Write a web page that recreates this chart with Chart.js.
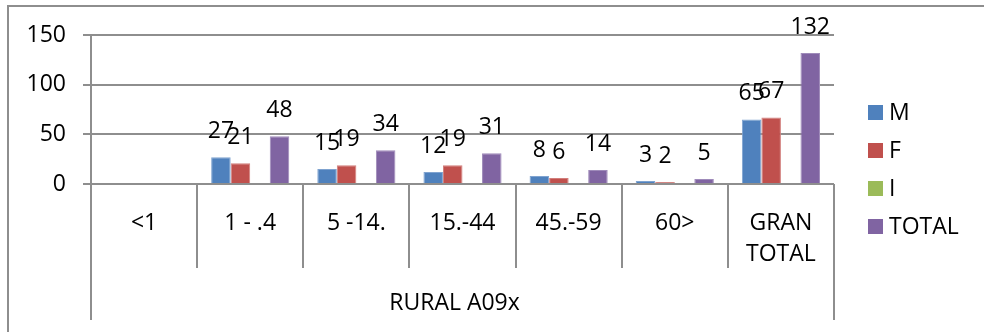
<!DOCTYPE html>
<html>
<head>
<meta charset="utf-8">
<script src="https://cdn.jsdelivr.net/npm/chart.js@4/dist/chart.umd.min.js"></script>
<style>
  html, body { margin: 0; padding: 0; background: #fff; }
  #wrap { width: 984px; height: 332px; position: relative; }
</style>
</head>
<body>
<div id="wrap"><canvas id="c" width="984" height="332"></canvas></div>
<script>
// Age groups (inner category axis) and the outer group label
const categories = ['<1', '1 - .4', '5 -14.', '15.-44', '45.-59', '60>', ['GRAN', 'TOTAL']];
const groupLabel = 'RURAL A09x';

// Series values per age group (null = no value)
const seriesNames = ['M', 'F', 'I', 'TOTAL'];
const valuesM     = [null, 27, 15, 12, 8, 3, 65];
const valuesF     = [null, 21, 19, 19, 6, 2, 67];
const valuesI     = [null, null, null, null, null, null, null];
const valuesTotal = [null, 48, 34, 31, 14, 5, 132];

// Value axis ticks
const yTicks = [0, 50, 100, 150];

const colors  = ['#4F81BD', '#C0504D', '#9BBB59', '#8064A2'];
const borders = ['#7FA3D0', '#D27E7B', '#B5CE87', '#9F8BBA'];
const LINE = '#8E8E8E';
const FONT = '"Open Sans", "DejaVu Sans", sans-serif';
const FSIZE = 23;

const seriesValues = [valuesM, valuesF, valuesI, valuesTotal];

// Decorations: frame, two-level category axis, data labels, legend
const decorations = {
  id: 'decorations',
  afterDatasetsDraw(chart) {
    const ctx = chart.ctx;
    ctx.save();
    ctx.font = FSIZE + 'px ' + FONT;
    ctx.fillStyle = '#000';
    ctx.textAlign = 'center';
    ctx.textBaseline = 'alphabetic';
    chart.data.datasets.forEach((ds, di) => {
      const meta = chart.getDatasetMeta(di);
      meta.data.forEach((el, i) => {
        const v = ds.data[i];
        if (v === null || v === undefined) return;
        ctx.fillText(String(v), el.x, el.y - 19);
      });
    });
    ctx.restore();
  },
  afterDraw(chart) {
    const ctx = chart.ctx;
    const area = chart.chartArea;
    const n = categories.length;
    const step = (area.right - area.left) / n;
    ctx.save();
    ctx.strokeStyle = LINE;
    ctx.lineWidth = 2;

    // outer frame (top and left edges visible)
    ctx.beginPath();
    ctx.moveTo(8, 332);
    ctx.lineTo(8, 6);
    ctx.lineTo(984, 6);
    ctx.stroke();

    // category separators below the axis
    for (let i = 0; i <= n; i++) {
      const x = Math.round(area.left + i * step);
      const yEnd = (i === 0 || i === n) ? 320 : 268;
      ctx.beginPath();
      ctx.moveTo(x, area.bottom);
      ctx.lineTo(x, yEnd);
      ctx.stroke();
    }

    // outer group label
    ctx.font = FSIZE + 'px ' + FONT;
    ctx.fillStyle = '#000';
    ctx.textAlign = 'center';
    ctx.textBaseline = 'middle';
    ctx.fillText(groupLabel, (area.left + area.right) / 2 - 8, 303);

    // legend
    ctx.textAlign = 'left';
    chart.data.datasets.forEach((ds, i) => {
      const cy = 112.5 + i * 38;
      ctx.fillStyle = ds.backgroundColor;
      ctx.fillRect(868, cy - 7.5, 15, 15);
      ctx.fillStyle = '#000';
      ctx.fillText(ds.label, 889, cy + 1);
    });
    ctx.restore();
  }
};

function build() {
  new Chart(document.getElementById('c'), {
    type: 'bar',
    data: {
      labels: categories,
      datasets: seriesNames.map((name, i) => ({
        label: name,
        data: seriesValues[i],
        backgroundColor: colors[i],
        borderColor: borders[i],
        borderWidth: 1,
        borderSkipped: 'bottom',
        categoryPercentage: 0.736,
        barPercentage: 1
      }))
    },
    options: {
      responsive: false,
      animation: false,
      events: [],
      layout: { padding: { top: 35, right: 150, bottom: 0, left: 0 } },
      plugins: { legend: { display: false }, tooltip: { enabled: false } },
      scales: {
        x: {
          grid: { display: false, drawTicks: false },
          border: { display: false },
          ticks: {
            font: { family: FONT, size: FSIZE, lineHeight: 1.35 },
            color: '#000',
            padding: 24,
            maxRotation: 0,
            autoSkip: false
          },
          afterFit(s) { s.height = 148; }
        },
        y: {
          min: yTicks[0],
          max: yTicks[yTicks.length - 1],
          afterBuildTicks(s) { s.ticks = yTicks.map(v => ({ value: v })); },
          grid: { color: LINE, lineWidth: 2, tickLength: 8, tickColor: LINE, tickWidth: 2 },
          border: { color: LINE, width: 2 },
          ticks: {
            font: { family: FONT, size: FSIZE },
            color: '#000',
            padding: 17
          },
          afterFit(s) { s.width = 91; }
        }
      }
    },
    plugins: [decorations]
  });
}

if (document.fonts && document.fonts.load) {
  document.fonts.load(FSIZE + 'px "Open Sans"').then(build, build);
} else {
  build();
}
</script>
</body>
</html>
